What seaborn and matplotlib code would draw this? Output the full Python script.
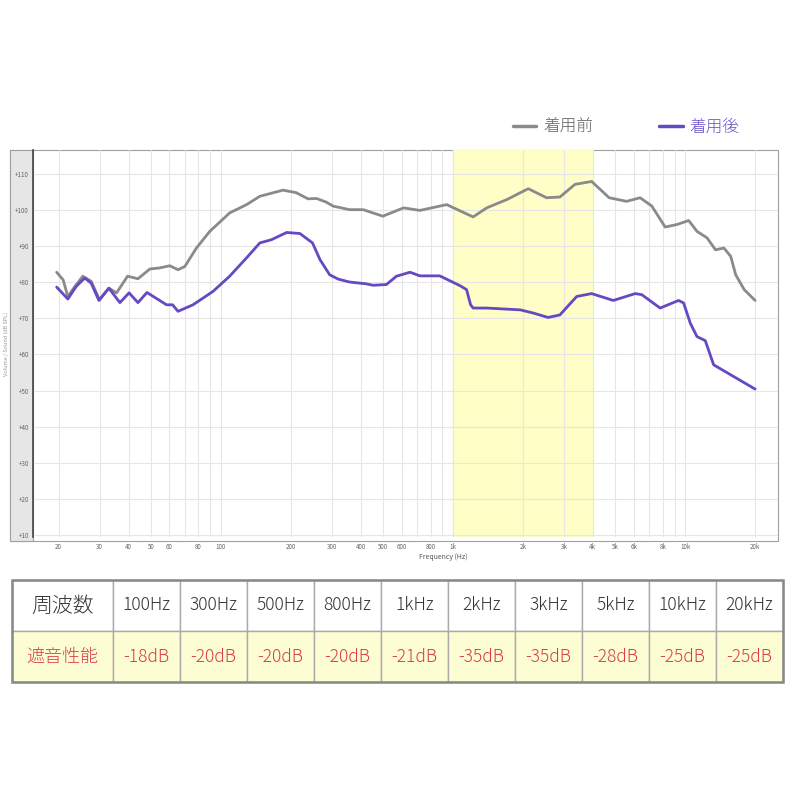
import numpy as np
import pandas as pd
import matplotlib
matplotlib.use('Agg')
import matplotlib.pyplot as plt
import matplotlib.ticker as mticker
from matplotlib.patches import Rectangle
import seaborn as sns

# ---- data ----
freq_before = [19.6, 20.9, 21.9, 23.5, 25.4, 27.6, 30.0, 32.9, 35.5, 39.6, 43.9, 49.4,
               54.5, 60.2, 65.3, 69.9, 78.4, 89.5, 109, 129, 147, 185, 211, 237, 258,
               284, 304, 358, 410, 498, 612, 720, 938, 1220, 1396, 1705, 2108, 2527,
               2885, 3350, 3952, 4287, 4700, 5594, 6392, 7180, 8194, 9216, 10350,
               11240, 12420, 13500, 14680, 15700, 16500, 17950, 20000]
level_before = [82.7, 80.6, 76.0, 78.8, 81.6, 80.2, 75.1, 78.3, 77.0, 81.6, 80.9, 83.6,
                83.9, 84.5, 83.4, 84.3, 89.4, 94.0, 99.1, 101.4, 103.7, 105.4, 104.7,
                103.0, 103.1, 102.1, 101.0, 100.0, 100.0, 98.2, 100.5, 99.8, 101.4,
                98.0, 100.5, 102.8, 105.8, 103.3, 103.5, 107.0, 107.8, 105.7, 103.3,
                102.3, 103.3, 101.0, 95.2, 95.9, 97.0, 94.0, 92.2, 88.9, 89.4, 87.1,
                82.0, 77.9, 74.9]

freq_after = [19.6, 21.9, 23.8, 25.9, 27.6, 29.8, 32.9, 36.7, 40.2, 43.9, 48.0, 52.6,
              58.3, 61.9, 65.3, 75.8, 92.4, 109, 129, 147, 165, 192, 219, 248, 267,
              294, 320, 358, 422, 452, 516, 570, 652, 720, 876, 1070, 1143, 1190, 1220,
              1396, 1948, 2220, 2566, 2885, 3408, 3952, 4900, 6088, 6500, 7796, 9360,
              9840, 10520, 11240, 12200, 13260, 20000]
level_after = [78.6, 75.3, 78.8, 81.1, 79.7, 74.9, 78.3, 74.3, 77.0, 74.3, 77.1, 75.5,
               73.7, 73.7, 71.9, 73.7, 77.4, 81.6, 86.7, 90.8, 91.7, 93.7, 93.4, 90.8,
               86.2, 82.0, 80.8, 80.0, 79.5, 79.1, 79.3, 81.6, 82.7, 81.7, 81.7, 79.0,
               77.9, 73.7, 72.8, 72.8, 72.3, 71.4, 70.2, 70.9, 76.0, 76.8, 74.9, 76.8,
               76.5, 72.8, 74.9, 74.2, 68.6, 64.9, 63.8, 57.1, 50.4]

series_names = ['着用前', '着用後']
series_colors = ['#8a8a8a', '#6548c4']

xtick_vals = [20, 30, 40, 50, 60, 80, 100, 200, 300, 400, 500, 600, 800,
              1000, 2000, 3000, 4000, 5000, 6000, 8000, 10000, 20000]
xtick_labels = ['20', '30', '40', '50', '60', '80', '100', '200', '300', '400', '500',
                '600', '800', '1k', '2k', '3k', '4k', '5k', '6k', '8k', '10k', '20k']
ytick_vals = [10, 20, 30, 40, 50, 60, 70, 80, 90, 100, 110]

table_header = ['周波数', '100Hz', '300Hz', '500Hz', '800Hz', '1kHz', '2kHz', '3kHz',
                '5kHz', '10kHz', '20kHz']
table_values = ['遮音性能', '-18dB', '-20dB', '-20dB', '-20dB', '-21dB', '-35dB',
                '-35dB', '-28dB', '-25dB', '-25dB']

df = pd.concat([
    pd.DataFrame({'freq': freq_before, 'level': level_before, 'cond': series_names[0]}),
    pd.DataFrame({'freq': freq_after, 'level': level_after, 'cond': series_names[1]}),
])

sns.set_style('white')
plt.rcParams['font.family'] = ['Noto Sans CJK JP', 'DejaVu Sans']

fig = plt.figure(figsize=(8, 8), dpi=100)
W, H = 800, 800

# gray label strip + outer frame of the chart (behind the axes)
fig.patches.append(Rectangle((10 / W, 1 - 541 / H), 768 / W, 391 / H,
                             transform=fig.transFigure, facecolor='white',
                             edgecolor='#a0a0a0', lw=0.8, zorder=-5))
fig.patches.append(Rectangle((10 / W, 1 - 541 / H), 23 / W, 391 / H,
                             transform=fig.transFigure, facecolor='#e6e6e6',
                             edgecolor='#a0a0a0', lw=0.8, zorder=-4))

ax = fig.add_axes([33 / W, 1 - 537 / H, 745 / W, 387 / H])
ax.set_facecolor('none')
ax.axvspan(1000, 4000, color='#fefec6', zorder=0)

sns.lineplot(data=df, x='freq', y='level', hue='cond', palette=series_colors,
             hue_order=series_names, sort=False, lw=2.0, ax=ax, legend=False,
             solid_joinstyle='round', solid_capstyle='round')

ax.set_xscale('log')
ax.set_xlim(15.5, 25100)
ax.set_ylim(9.5, 116.5)
ax.xaxis.set_major_locator(mticker.FixedLocator(xtick_vals))
ax.xaxis.set_major_formatter(mticker.FixedFormatter(xtick_labels))
ax.xaxis.set_minor_locator(mticker.LogLocator(base=10, subs=np.arange(1, 10)))
ax.xaxis.set_minor_formatter(mticker.NullFormatter())
ax.set_yticks(ytick_vals)
ax.set_yticklabels([f'+{v}' for v in ytick_vals])
ax.grid(True, which='both', axis='x', color='#e6e6e6', lw=0.8)
ax.grid(True, which='major', axis='y', color='#e6e6e6', lw=0.8)
ax.set_axisbelow(True)
ax.tick_params(axis='both', which='both', length=0, labelsize=4.5, labelcolor='#666666')
ax.tick_params(axis='x', pad=4)
ax.tick_params(axis='y', pad=3)
for s in ['top', 'right', 'bottom']:
    ax.spines[s].set_visible(False)
ax.spines['left'].set_color('#444444')
ax.spines['left'].set_linewidth(1.2)
ax.set_xlabel('Frequency (Hz)', fontsize=5, color='#555555', labelpad=2, x=0.55)
ax.set_ylabel('Volume / Sound (dB SPL)', fontsize=4, color='#999999', labelpad=4)

# legend
handles = [plt.Line2D([], [], color=c, lw=2.5) for c in series_colors]
leg = fig.legend(handles, series_names, loc='center', bbox_to_anchor=(626 / W, 1 - 127 / H),
                 ncol=2, frameon=False, handlelength=1.4,
                 columnspacing=4.0, handletextpad=0.4, prop={'weight': 'light', 'size': 12})
for t, c in zip(leg.get_texts(), ['#606060', '#6a50c8']):
    t.set_color(c)

# table
tax = fig.add_axes([12 / W, 1 - 682 / H, 771 / W, 102 / H])
tax.axis('off')
col_w = [101] + [67] * 10
tbl = tax.table(cellText=[table_header, table_values], bbox=[0, 0, 1, 1],
                colWidths=[w / sum(col_w) for w in col_w], cellLoc='center')
tbl.auto_set_font_size(False)
for (r, c), cell in tbl.get_celld().items():
    cell.set_edgecolor('#aaaaaa')
    cell.set_linewidth(1.0)
    txt = cell.get_text()
    txt.set_fontweight('light')
    if r == 0:
        cell.set_facecolor('white')
        txt.set_color('#333333')
        txt.set_fontsize(15 if c == 0 else 12.5)
    else:
        cell.set_facecolor('#fdfdd3')
        txt.set_color('#d93a4e')
        txt.set_fontsize(13 if c == 0 else 12.5)
outer = Rectangle((0, 0), 1, 1, transform=tax.transAxes, fill=False,
                  edgecolor='#888888', lw=1.8, clip_on=False)
tax.add_patch(outer)

fig.savefig('out.png', dpi=100)
